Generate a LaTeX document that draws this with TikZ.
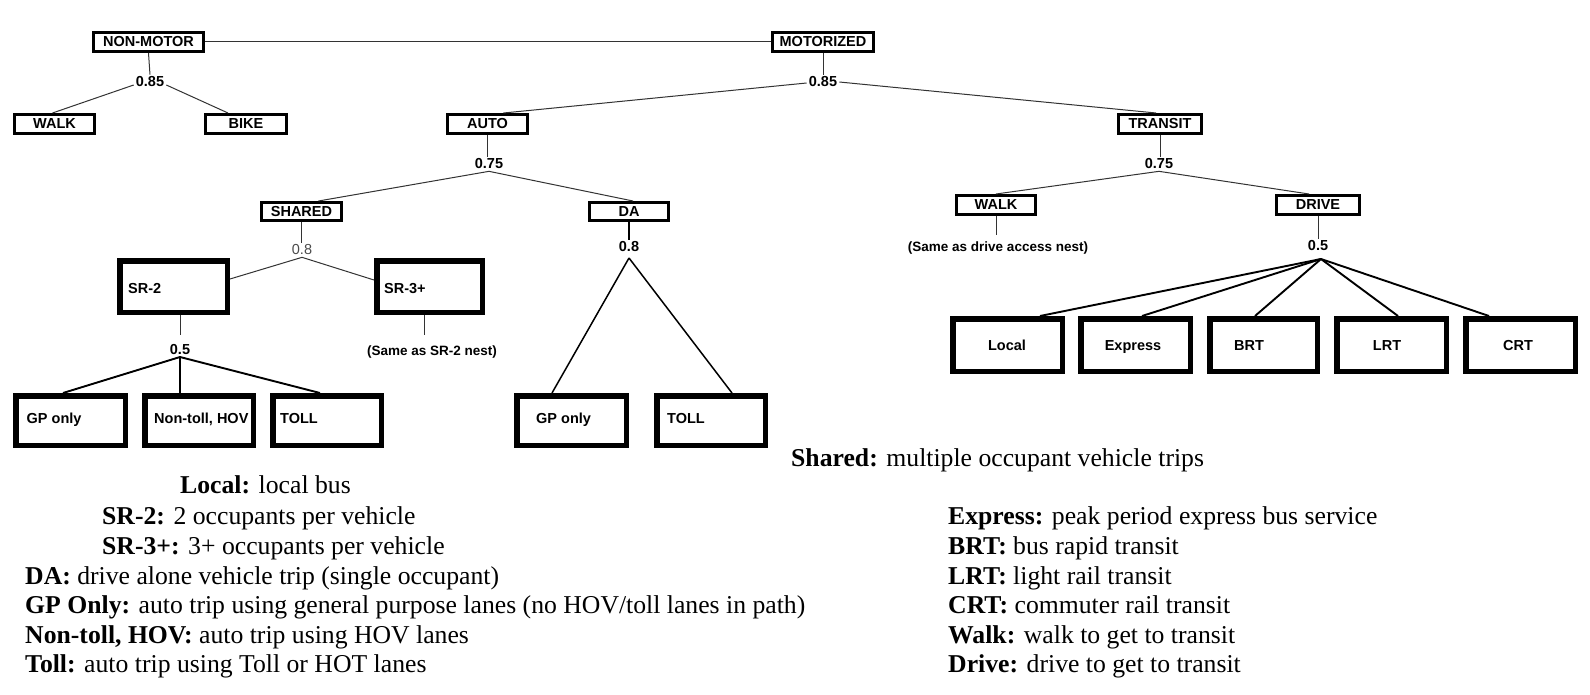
\documentclass[tikz,border=0pt]{standalone}
\usepackage{fontspec}
\setmainfont{Liberation Serif}
\newfontfamily\arialf{Liberation Sans}
\usetikzlibrary{calc}
\tikzset{
  sbox/.style={draw=black, line width=3pt, minimum height=19pt, inner sep=0pt, font=\arialf\bfseries\fontsize{14.5}{17}\selectfont},
  bbox/.style={draw=black, line width=5.5pt, inner sep=0pt},
  btxt/.style={font=\arialf\bfseries\fontsize{14.5}{17}\selectfont, inner sep=0pt},
  num/.style={font=\arialf\bfseries\fontsize{14.5}{17}\selectfont, inner sep=2pt},
  numg/.style={font=\arialf\fontsize{14.5}{17}\selectfont, text=black!70, inner sep=2pt},
  note/.style={font=\arialf\bfseries\fontsize{13.5}{16}\selectfont, inner sep=1pt},
  conn/.style={line width=1pt, draw=black!80},
  fan/.style={line width=1.9pt, draw=black},
  mid/.style={line width=1.5pt, draw=black},
  leg/.style={font=\fontsize{25.7}{29.5}\selectfont, anchor=base west, inner sep=0pt},
}
\begin{document}
\begin{tikzpicture}[x=1pt,y=-1pt]
\useasboundingbox[fill=white] (0,0) rectangle (1590,695);

% ---- small boxes
\node[sbox, minimum width=110pt] (nm) at (148.5,42) {NON-MOTOR};
\node[sbox, minimum width=101pt] (mot) at (823,42) {MOTORIZED};
\node[sbox, minimum width=80pt] (w1) at (54.5,124) {WALK};
\node[sbox, minimum width=81pt] (bike) at (246,124) {BIKE};
\node[sbox, minimum width=80pt] (auto) at (487.5,124) {AUTO};
\node[sbox, minimum width=83pt] (transit) at (1160,124) {TRANSIT};
\node[sbox, minimum width=80pt, minimum height=18pt] (shared) at (301.5,211.5) {SHARED};
\node[sbox, minimum width=79pt, minimum height=18pt] (da) at (629,211.5) {DA};
\node[sbox, minimum width=79pt] (twalk) at (996,205) {WALK};
\node[sbox, minimum width=83pt] (drive) at (1318,205) {DRIVE};

% ---- big boxes
\node[bbox, minimum width=107.5pt, minimum height=51.5pt] (sr2) at (173.5,286.5) {};
\node[bbox, minimum width=105.5pt, minimum height=51.5pt] (sr3) at (429.5,286.5) {};
\node[bbox, minimum width=109.5pt, minimum height=49.5pt] (gp1) at (70.5,420.5) {};
\node[bbox, minimum width=108.5pt, minimum height=49.5pt] (nt) at (199,420.5) {};
\node[bbox, minimum width=108.5pt, minimum height=49.5pt] (toll1) at (327,420.5) {};
\node[bbox, minimum width=109.5pt, minimum height=49.5pt] (gp2) at (571.5,420.5) {};
\node[bbox, minimum width=108.5pt, minimum height=49.5pt] (toll2) at (711,420.5) {};
\node[bbox, minimum width=109.5pt, minimum height=52.5pt] (local) at (1007.5,345) {};
\node[bbox, minimum width=109.5pt, minimum height=52.5pt] (express) at (1135.5,345) {};
\node[bbox, minimum width=107.5pt, minimum height=52.5pt] (brt) at (1263.5,345) {};
\node[bbox, minimum width=109.5pt, minimum height=52.5pt] (lrt) at (1391.5,345) {};
\node[bbox, minimum width=109.5pt, minimum height=52.5pt] (crt) at (1520.5,345) {};

% ---- texts in big boxes
\node[btxt, anchor=base west] (sr2t) at (128,293) {SR-2};
\node[btxt, anchor=base west] (sr3t) at (384,293) {SR-3+};
\node[btxt, anchor=base west] (gp1t) at (26.5,423) {GP only};
\node[btxt, anchor=base west] (ntt) at (154,423) {Non-toll, HOV};
\node[btxt, anchor=base west] (toll1t) at (280,423) {TOLL};
\node[btxt, anchor=base west] (gp2t) at (536,423) {GP only};
\node[btxt, anchor=base west] (toll2t) at (667,423) {TOLL};
\node[btxt, anchor=base] (localt) at (1007,350) {Local};
\node[btxt, anchor=base] (expt) at (1133,350) {Express};
\node[btxt, anchor=base west] (brtt) at (1234,350) {BRT};
\node[btxt, anchor=base] (lrtt) at (1387,350) {LRT};
\node[btxt, anchor=base] (crtt) at (1518,350) {CRT};

% ---- nest coefficients and notes
\node[num] (n1) at (150,82) {0.85};
\node[num] (n2) at (823,82) {0.85};
\node[num] (n3) at (489,164) {0.75};
\node[numg] (n4) at (302,250) {0.8};
\node[num] (n5) at (180,350) {0.5};
\node[num] (n6) at (629,247) {0.8};
\node[num] (n7) at (1159,164) {0.75};
\node[num] (n8) at (1318,246) {0.5};
\node[note] (sr3note) at (432,352) {(Same as SR-2 nest)};
\node[note] (twnote) at (998,248) {(Same as drive access nest)};
\coordinate (sr2end) at (180,335);
\coordinate (sr3end) at (424,335);
\coordinate (twend) at (996,235);
\coordinate (a6) at (629,258);
\coordinate (a8) at (1321,259);
\coordinate (a5) at (180,357);

% ---- connectors
\draw[conn] (nm.east) -- (mot.west);
\draw[conn] (nm.south) -- (n1.north);
\draw[conn] ([yshift=-3pt]n1.west) -- ([xshift=-2pt]w1.north);
\draw[conn] ([yshift=-3pt]n1.east) -- ([xshift=-18pt]bike.north);
\draw[conn] (mot.south) -- (n2.north);
\draw[conn] ([yshift=-1pt]n2.west) -- ([xshift=16pt]auto.north);
\draw[conn] (n2.east) -- ([xshift=-4pt]transit.north);
\draw[conn] (auto.south) -- (auto.south |- n3.north);
\draw[conn] (n3.south) -- ([xshift=17pt]shared.north);
\draw[conn] (n3.south) -- ([xshift=4pt]da.north);
\draw[conn] (shared.south) -- (shared.south |- n4.north);
\draw[conn] (n4.south) -- ([yshift=7.5pt]sr2.east);
\draw[conn] (n4.south) -- ([yshift=6.5pt]sr3.west);
\draw[conn] (sr2.south -| sr2end) -- (sr2end);
\draw[fan] (a5) -- ([xshift=-7.5pt]gp1.north);
\draw[fan] (a5) -- ([xshift=-19pt]nt.north);
\draw[fan] (a5) -- ([xshift=-7pt]toll1.north);
\draw[conn] (sr3.south -| sr3end) -- (sr3end);
\draw[line width=2pt] (da.south) -- (n6.north);
\draw[mid] (a6) -- ([xshift=-19.5pt]gp2.north);
\draw[mid] (a6) -- ([xshift=21pt]toll2.north);
\draw[conn] (transit.south) -- (transit.south |- n7.north);
\draw[conn] (n7.south) -- (twalk.north);
\draw[conn] (n7.south) -- ([xshift=-9pt]drive.north);
\draw[conn] (twalk.south) -- (twend);
\draw[conn] (drive.south) -- (n8.north);
\draw[fan] (a8) -- ([xshift=32.5pt]local.north);
\draw[fan] (a8) -- ([xshift=6.5pt]express.north);
\draw[fan] (a8) -- ([xshift=-8.5pt]brt.north);
\draw[fan] (a8) -- ([xshift=6.5pt]lrt.north);
\draw[fan] (a8) -- ([xshift=-31.5pt]crt.north);

% ---- legend
\node[leg] (lg0) at (791,466) {\textbf{Shared:} multiple occupant vehicle trips};
\node[leg] (lg1) at (180,493.5) {\textbf{Local:} local bus};
\node[leg] (lg2) at (102,524.5) {\textbf{SR-2:} 2 occupants per vehicle};
\node[leg] (lg3) at (102,554.5) {\textbf{SR-3+:} 3+ occupants per vehicle};
\node[leg] (lg4) at (25,584.5) {\textbf{DA:} drive alone vehicle trip (single occupant)};
\node[leg] (lg5) at (25,613.5) {\textbf{GP Only:} auto trip using general purpose lanes (no HOV/toll lanes in path)};
\node[leg] (lg6) at (25,643.5) {\textbf{Non-toll, HOV:} auto trip using HOV lanes};
\node[leg] (lg7) at (25,672.5) {\textbf{Toll:} auto trip using Toll or HOT lanes};
\node[leg] (lg8) at (948,524.5) {\textbf{Express:} peak period express bus service};
\node[leg] (lg9) at (948,554.5) {\textbf{BRT:} bus rapid transit};
\node[leg] (lg10) at (948,584.5) {\textbf{LRT:} light rail transit};
\node[leg] (lg11) at (948,613.5) {\textbf{CRT:} commuter rail transit};
\node[leg] (lg12) at (948,643.5) {\textbf{Walk:} walk to get to transit};
\node[leg] (lg13) at (948,672.5) {\textbf{Drive:} drive to get to transit};
\end{tikzpicture}
\end{document}
